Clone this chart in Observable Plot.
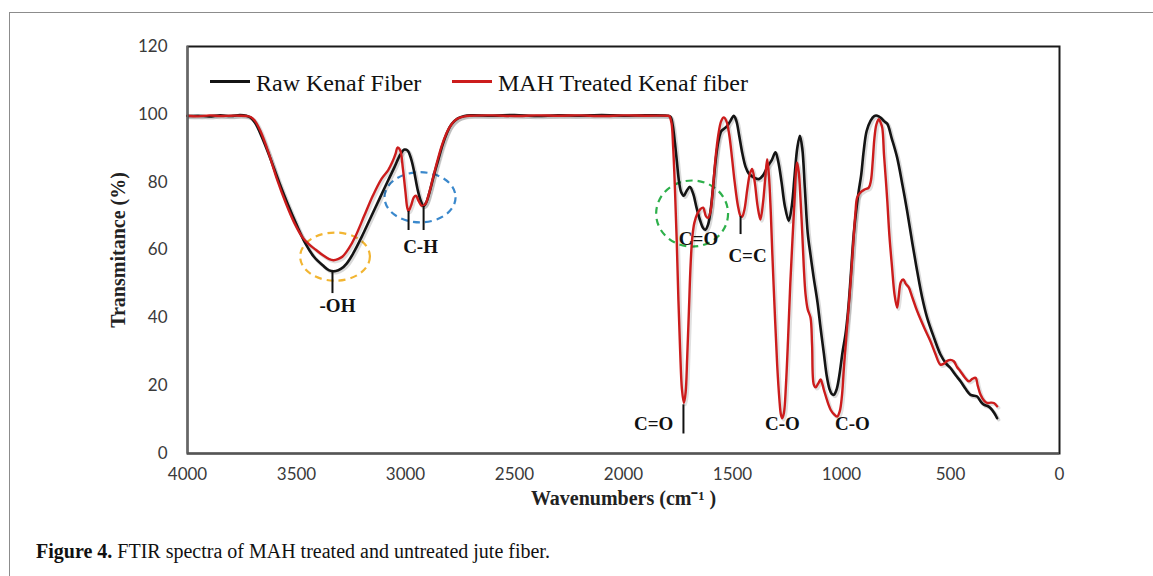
<!DOCTYPE html>
<html><head><meta charset="utf-8">
<script src="https://cdn.jsdelivr.net/npm/d3@7"></script>
<script src="https://cdn.jsdelivr.net/npm/@observablehq/plot@0.6"></script>
<style>
body{margin:0;background:#fff;overflow:hidden;}
#wrap{position:relative;width:1153px;height:576px;overflow:hidden;background:#fff;}
#border{position:absolute;left:9px;top:12px;width:1300px;height:800px;border:1.5px solid #8c8c8c;box-sizing:border-box;}
#chart{position:absolute;left:0;top:0;}
.leg{position:absolute;font-family:"Liberation Serif",serif;font-size:24px;line-height:24px;color:#111;white-space:nowrap;}
.sw{position:absolute;height:3px;}
#caption{position:absolute;left:36px;top:541px;font-family:"Liberation Serif",serif;font-size:20px;line-height:20px;color:#111;white-space:nowrap;}
</style></head><body>
<div id="wrap"><div id="border"></div><div id="chart"></div><div id="legend"></div><div id="caption"><b>Figure 4.</b> FTIR spectra of MAH treated and untreated jute fiber.</div></div>
<script>
// ---- data ----
const rawWn=[4000,3950,3900,3850,3800,3760,3730,3710,3690,3660,3620,3580,3540,3500,3460,3420,3380,3350,3320,3295,3270,3240,3200,3160,3120,3080,3050,3025,3005,2990,2975,2960,2945,2930,2917,2905,2890,2870,2850,2830,2810,2790,2760,2730,2700,2600,2500,2400,2300,2200,2100,2000,1900,1800,1785,1775,1765,1755,1745,1735,1723,1710,1695,1680,1665,1650,1635,1624,1612,1600,1590,1578,1565,1552,1540,1525,1510,1494,1482,1470,1455,1440,1425,1405,1379,1360,1340,1320,1303,1290,1275,1260,1242,1228,1215,1203,1191,1180,1168,1155,1142,1128,1110,1096,1081,1068,1055,1045,1035,1022,1010,995,982,970,958,944,930,921,910,898,885,867,850,836,820,805,790,770,745,720,699,675,653,630,607,575,546,520,500,475,454,430,408,390,378,360,347,330,317,300,286];
const rawT=[99.5,99.6,99.4,99.7,99.5,99.8,99.6,99.0,97.5,93.5,87,80,73.5,67.5,62,58,55.5,54,53.8,54.5,56,59,64,69.5,75,80.5,84.5,88,89.6,89.3,87,83,78,74.5,73,74,77,82,86.5,91,94.5,97,98.8,99.5,99.7,99.6,99.8,99.5,99.7,99.6,99.8,99.6,99.7,99.6,99.3,97,92,86,80,77,76,77.5,78.6,76.5,72.5,69,66.5,66,67.5,72,78,86,92,95,95.7,96.5,98,99.6,98,94,88.5,84.5,82.5,81.5,80.9,82,84.5,86.5,88.8,86,80,73,68.6,73,82,90,93.7,90,78,65,58.5,52,44.5,37,29.5,23,19,17.6,17.3,19,23,30,35,42,52,64.6,73,77.4,82,89.3,95,98.1,99.5,99.6,99,98,97.2,93,87.3,79,71.5,62,53.8,46,40,34,29.2,26.5,25.2,23,21.3,19,17.3,17,16.8,15.2,14.4,14,13.4,12,10.4];
const mahWn=[4000,3950,3900,3850,3800,3760,3730,3710,3690,3665,3630,3590,3550,3510,3470,3440,3410,3380,3350,3330,3310,3290,3260,3230,3190,3150,3110,3080,3060,3045,3037,3025,3012,3000,2992,2986,2975,2962,2952,2940,2925,2910,2895,2875,2855,2835,2815,2795,2765,2730,2700,2600,2500,2400,2300,2200,2100,2000,1900,1800,1790,1780,1772,1764,1756,1748,1740,1732,1723,1715,1708,1700,1692,1684,1675,1662,1648,1635,1622,1612,1602,1590,1578,1565,1552,1540,1528,1515,1502,1490,1475,1463,1456,1445,1432,1420,1410,1398,1385,1372,1360,1350,1341,1333,1325,1318,1305,1295,1285,1278,1272,1264,1255,1245,1235,1225,1216,1210,1204,1196,1188,1180,1173,1165,1155,1142,1135,1127,1118,1108,1096,1088,1081,1070,1060,1050,1035,1020,1008,998,989,975,959,945,936,928,913,895,875,865,857,849,840,829,822,813,805,797,790,780,768,757,745,738,728,717,705,691,675,653,620,592,570,546,530,515,500,485,470,454,435,416,400,385,375,362,345,332,315,301,286];
const mahT=[99.6,99.4,99.7,99.5,99.6,99.6,99.5,99.2,98,95,89,81,74,68,63.5,61.5,60,58.5,57.3,57,57.3,58,60.5,64,70,76,81,83.5,86,88.5,90.2,89.5,84,77,72.5,71.5,73,75.5,76,74.5,73,73.5,76,81,86,90.5,94,96.5,98.6,99.4,99.6,99.7,99.5,99.7,99.6,99.7,99.5,99.7,99.6,99.6,99.5,97.5,90,78,63,45,30,19,14.9,18,28,42,56,64,68,70.6,72,72.5,70,69.5,71,78,87,94,98,99.1,98,94,87,80,73,70,69.8,72,78,82.5,83.9,80,73,69,74,81,86.8,82,72,60,40,26,16,11.5,10.4,12,20,34,50,63,74,82,85.8,83,75,65,55,47,42.5,40,32,20.3,19.5,20.5,21.8,20.5,18.8,16.5,14.5,12.9,11.6,10.9,12.5,17,25.2,37,49.9,63,71,75.5,77,77.8,78.4,80.5,86,93,97,98.6,97.8,96,88,81,74.5,64,54.8,47,43,46,50.5,51.3,50,48.9,46,42,37,33.1,29.5,26.2,26.5,27.3,27.6,27.2,25.5,24.2,22.5,21.3,22,22.3,20,17.3,15.5,14.9,15,14.9,13.9];
const seriesNames=["Raw Kenaf Fiber","MAH Treated Kenaf fiber"];
const seriesColors=["#141414","#cc1c1c"];
const xTicks=[4000,3500,3000,2500,2000,1500,1000,500,0];
const yTicks=[0,20,40,60,80,100,120];
const xTitle="Wavenumbers (cm\u207B\u00B9 )";
const yTitle="Transmitance (%)";
// band annotations
const labelText=["-OH","C-H","C=O","C=C","C=O","C-O","C-O"];
const labelWn=[3312,2931,1656,1431,1862,1271,950];
const labelT=[43.6,60.9,63.3,58.2,8.6,8.6,8.6];
const markerWn=[3335,2986,2917,1463,1725];
const markerTop=[53.8,71.5,73,70,14.5];
const markerBottom=[47.3,65.9,65.9,64.7,5.9];
const ellipseWn=[3321,2931,1683];
const ellipseT=[57.9,75.4,70.6];
const ellipseRxWn=[160,163,165];
const ellipseRyT=[7.1,7.4,9.75];
const ellipseColor=["#f2b532","#3a88cc","#2eb04b"];

// ---- build ----
const rawData=rawWn.map((w,i)=>({wn:w,t:rawT[i]}));
const mahData=mahWn.map((w,i)=>({wn:w,t:mahT[i]}));
const labels=labelText.map((s,i)=>({s,wn:labelWn[i],t:labelT[i]}));
const markers=markerWn.map((w,i)=>({wn:w,t1:markerTop[i],t2:markerBottom[i]}));

function ellipsesMark(index, scales){
  const ns="http://www.w3.org/2000/svg";
  const g=document.createElementNS(ns,"g");
  ellipseWn.forEach((w,i)=>{
    const e=document.createElementNS(ns,"ellipse");
    const cx=scales.x(w), cy=scales.y(ellipseT[i]);
    e.setAttribute("cx",cx); e.setAttribute("cy",cy);
    e.setAttribute("rx",Math.abs(scales.x(w+ellipseRxWn[i])-cx));
    e.setAttribute("ry",Math.abs(scales.y(ellipseT[i]+ellipseRyT[i])-cy));
    e.setAttribute("fill","none"); e.setAttribute("stroke",ellipseColor[i]);
    e.setAttribute("stroke-width",2.2); e.setAttribute("stroke-dasharray","7,5");
    g.appendChild(e);
  });
  return g;
}

const serif="Liberation Serif, Times New Roman, serif";
const plot=Plot.plot({
  width:1153,height:576,
  marginLeft:187,marginRight:94,marginTop:46,marginBottom:123,
  style:{fontFamily:"Lato, sans-serif",fontSize:"17px",color:"#3a3a3a",background:"transparent",overflow:"visible"},
  x:{domain:[4000,0],ticks:xTicks,tickSize:0,tickPadding:14,label:null,tickFormat:d=>String(d)},
  y:{domain:[0,120],ticks:yTicks,tickSize:0,tickPadding:20,label:null,tickFormat:d=>String(d)},
  marks:[
    ellipsesMark,
    Plot.line(rawData,{x:"wn",y:"t",stroke:"#000",strokeOpacity:0.15,strokeWidth:3.5,dx:1.5,dy:1.5,curve:"catmull-rom"}),
    Plot.line(mahData,{x:"wn",y:"t",stroke:"#000",strokeOpacity:0.12,strokeWidth:3.5,dx:1.5,dy:1.5,curve:"catmull-rom"}),
    Plot.line(rawData,{x:"wn",y:"t",stroke:seriesColors[0],strokeWidth:2.6,curve:"catmull-rom"}),
    Plot.line(mahData,{x:"wn",y:"t",stroke:seriesColors[1],strokeWidth:2.4,curve:"catmull-rom"}),
    Plot.link(markers,{x1:"wn",x2:"wn",y1:"t1",y2:"t2",stroke:"#111",strokeWidth:2}),
    Plot.text(labels,{x:"wn",y:"t",text:"s",fontFamily:serif,fontWeight:"bold",fontSize:19,fill:"#111"}),
    Plot.frame({stroke:"#1a1a1a",strokeWidth:2}),
    Plot.ruleX([4000],{stroke:"#666",strokeWidth:2}),
    Plot.ruleY([0],{stroke:"#555",strokeWidth:2}),
    Plot.text([yTitle],{frameAnchor:"left",dx:-69,rotate:-90,textAnchor:"middle",lineAnchor:"middle",fontFamily:serif,fontWeight:"bold",fontSize:20,fill:"#222"}),
    Plot.text([xTitle],{frameAnchor:"bottom",dy:45,textAnchor:"middle",lineAnchor:"middle",fontFamily:serif,fontWeight:"bold",fontSize:20,fill:"#222"})
  ]
});
document.getElementById("chart").appendChild(plot);

// legend
const leg=document.getElementById("legend");
const legX=[210,452];
seriesNames.forEach((n,i)=>{
  const sw=document.createElement("div"); sw.className="sw";
  sw.style.left=legX[i]+"px"; sw.style.top="80px"; sw.style.width="40px"; sw.style.background=seriesColors[i];
  leg.appendChild(sw);
  const t=document.createElement("div"); t.className="leg"; t.textContent=n;
  t.style.left=(legX[i]+46)+"px"; t.style.top="71px";
  leg.appendChild(t);
});
</script>
</body></html>
